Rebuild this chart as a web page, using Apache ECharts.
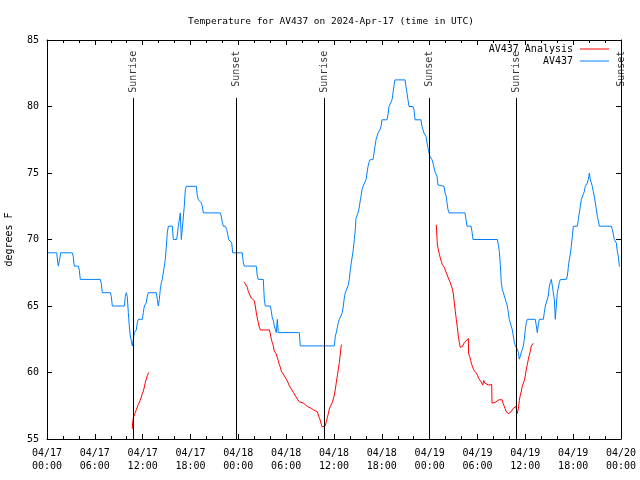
<!DOCTYPE html>
<html>
<head>
<meta charset="utf-8">
<script src="https://cdn.jsdelivr.net/npm/echarts@6/dist/echarts.min.js"></script>
<style>html,body{margin:0;padding:0;background:#fff}#c{width:640px;height:480px}</style>
</head>
<body>
<div id="c"></div>
<script>
// hours since 2024-04-17 00:00 UTC
var xTickLabels = ['04/17\n00:00','04/17\n06:00','04/17\n12:00','04/17\n18:00','04/18\n00:00','04/18\n06:00','04/18\n12:00','04/18\n18:00','04/19\n00:00','04/19\n06:00','04/19\n12:00','04/19\n18:00','04/20\n00:00'];

var blueHours = [0.13,1.22,1.34,1.42,1.59,1.72,3.17,3.30,3.42,3.93,4.05,4.18,6.69,6.81,6.94,7.94,8.07,8.19,9.70,9.82,
9.95,10.07,10.20,10.32,10.45,10.57,10.70,10.83,10.95,11.20,11.33,11.45,11.95,12.08,12.21,12.46,12.58,12.71,13.71,13.84,
13.96,14.09,14.21,14.34,14.46,14.71,14.84,14.97,15.09,15.22,15.72,15.84,16.27,16.47,16.72,16.85,16.97,17.22,17.35,17.47,
18.73,18.85,18.98,19.23,19.36,19.48,19.61,21.74,21.86,21.99,22.11,22.37,22.54,22.67,22.79,23.04,23.17,23.29,24.50,24.62,
24.75,26.25,26.38,26.51,27.13,27.26,27.38,28.01,28.14,28.26,28.39,28.51,28.64,28.76,28.89,29.01,31.65,31.77,36.04,36.17,
36.29,36.42,36.54,36.67,36.92,37.04,37.17,37.29,37.42,37.67,37.80,37.92,38.05,38.17,38.30,38.42,38.55,38.67,38.76,39.01,
39.14,39.26,39.39,39.51,39.64,39.89,40.02,40.14,40.27,40.39,40.52,40.89,41.02,41.14,41.27,41.52,41.65,41.77,41.90,42.02,
42.65,42.78,42.90,43.15,43.28,43.40,43.53,43.65,44.91,45.03,45.16,45.28,45.41,45.91,46.04,46.16,46.91,47.04,47.17,47.29,
47.54,47.67,47.79,47.92,48.04,48.29,48.42,48.67,48.80,48.92,49.05,49.17,49.80,49.93,50.05,50.18,50.30,50.43,52.43,52.56,
52.68,53.19,53.31,53.44,56.49,56.61,56.74,56.86,56.99,57.11,57.24,57.49,57.62,57.74,57.87,57.99,58.24,58.37,58.49,58.62,
58.74,58.87,58.99,59.12,59.25,59.50,59.62,59.75,59.87,60.00,60.12,60.25,61.25,61.38,61.50,61.63,61.76,62.26,62.38,62.51,
62.76,62.88,63.01,63.13,63.26,63.39,63.51,63.64,63.76,63.89,64.01,64.14,64.26,64.39,65.14,65.27,65.39,65.52,65.64,65.77,
65.90,66.02,66.52,66.65,66.77,66.90,67.02,67.15,67.27,67.40,67.52,67.65,67.77,67.90,68.03,68.15,68.28,68.40,68.53,68.65,
68.78,68.91,69.03,69.16,69.28,70.79,70.91,71.04,71.16,71.28,71.41,71.54,71.66,71.79,71.88];

var blueTemps = [69,69,68.3,68,68.5,69,69,68.7,68,68,67.7,67,67,66.7,66,66,65.7,65,65,65.7,
66,65.7,64.5,63.5,62.75,62.4,62,62.5,63,63.2,63.75,64,64,64.5,65,65.25,65.75,66,66,65.5,
65,65.5,66.25,66.75,67,67,68.5,69.5,70.5,71,71,70,70,71,72,70,70,72.5,73.75,74,
74,73.3,73,73,72.75,72.5,72,72,71.75,71.3,71,71,70.75,70.4,70,70,69.75,69,69,68.25,
68,68,67.25,67,67,65.5,65,65,64.6,64.1,63.9,63.5,63.25,63,64,63,63,62,62,62.75,
63,63.4,63.75,64,64,64.5,65,65.6,66,66,66.6,67,67.75,68.25,68.75,69.25,70,70.75,71.6,72,
72.3,72.8,73.25,73.75,74,74,74.5,75,75.5,75.8,76,76,76.5,77,77.5,78,78,78.25,78.5,79,
79,79.4,80,80,80.5,81,81.6,82,82,81.5,81,80.5,80,80,79.75,79,79,78.5,78.25,78,
77.75,77.25,76.9,76.5,76.25,76,75.75,75.1,75,74.75,74.1,74,74,73.5,73.3,72.75,72.25,72,72,71.5,
71,71,70.6,70,70,69.6,69.1,68.1,66.75,66.25,66,65.9,65.25,65,64.5,64,64,63.2,62.75,62.25,
62,62,61.75,61.5,61,61,61.75,62,62.5,63.25,63.75,64,64,63.5,63,63.6,64,64,64.5,65,
65,65.75,66.5,66.75,67,66.5,66,65.5,64,64,66,66,66.75,67,67,67.25,67.9,68.5,68.9,69.5,
70.25,71,71,71.5,72,72.5,73,73.2,73.4,73.6,74,74,74.25,74.5,75,74.5,74.25,74,73.6,73.25,
72.75,72.25,71.75,71.4,71,71,70.75,70.4,70,70,69.75,69.1,68.75,68,68];

var redHours1 = [10.70,10.74,10.83,10.95,11.08,11.20,11.33,11.45,11.58,11.70,11.83,11.95,12.08,12.21,12.33,12.46,12.58,12.71,12.83];
var redTemps1 = [55.75,56.2,56.6,56.8,57.0,57.2,57.4,57.6,57.75,57.9,58.0,58.4,58.6,58.9,59.25,59.5,59.75,59.95,60.0];

var redHours2 = [24.75,25.00,25.13,25.25,25.38,25.63,25.88,26.00,26.13,26.25,26.38,26.51,26.63,26.76,27.89,28.01,28.14,28.26,28.39,28.51,
28.64,28.76,28.89,29.01,29.14,29.27,29.39,29.52,29.77,29.89,30.02,30.14,30.27,30.39,30.52,30.65,30.77,30.90,31.02,31.15,
31.27,31.40,31.52,31.65,31.90,32.15,32.40,32.65,32.90,33.15,33.41,33.66,33.91,34.03,34.16,34.28,34.41,34.53,34.66,34.78,
34.91,35.04,35.16,35.29,35.41,35.54,35.66,35.79,35.91,36.04,36.17,36.29,36.42,36.54,36.67,36.79,36.92];
var redTemps2 = [66.8,66.75,66.4,66.1,65.9,65.6,65.5,65.4,65.0,64.5,64.1,63.75,63.4,63.2,63.2,62.9,62.5,62.25,62.0,61.6,
61.45,61.4,61.1,60.9,60.6,60.4,60.1,59.95,59.75,59.6,59.5,59.4,59.2,59.0,58.9,58.75,58.6,58.5,58.4,58.25,
58.1,58.0,57.9,57.8,57.75,57.7,57.55,57.45,57.4,57.3,57.2,57.1,57.05,56.8,56.6,56.4,56.1,55.9,55.8,55.8,
56.0,56.3,56.6,56.9,57.25,57.45,57.6,57.75,57.9,58.3,58.75,59.25,59.75,60.25,60.75,61.4,62.1];

var redHours3 = [48.83,48.96,49.08,49.21,49.34,49.46,49.59,49.71,49.84,49.96,50.09,50.21,50.34,50.47,50.59,50.72,50.84,50.97,51.09,51.22,
51.34,51.47,51.59,51.72,51.84,51.97,52.10,52.22,52.35,52.60,52.85,52.89,53.02,53.14,53.27,53.40,53.52,53.65,53.78,53.90,
54.03,54.15,54.28,54.40,54.53,54.66,54.78,54.91,55.03,55.41,55.53,55.78,55.82,56.20,56.45,56.70,56.95,57.08,57.20,57.33,
57.45,57.58,57.70,57.83,57.95,58.08,58.21,58.33,58.46,58.58,58.83,58.96,59.00,59.12,59.25,59.37,59.50,59.62,59.75,59.87,
60.00,60.12,60.25,60.38,60.50,60.63,60.75,61.00];
var redTemps3 = [71.1,69.6,69.25,68.9,68.6,68.35,68.1,67.95,67.9,67.7,67.5,67.4,67.1,67.0,66.75,66.6,66.3,65.9,65.25,64.6,
64.0,63.4,62.75,62.25,61.9,61.9,61.95,62.05,62.25,62.3,62.55,61.4,61.2,60.9,60.6,60.4,60.2,60.1,60.0,59.9,
59.75,59.55,59.5,59.35,59.2,59.05,59.4,59.2,59.05,59.05,59.1,59.1,57.7,57.75,57.9,57.95,58.0,57.95,57.7,57.5,
57.3,57.1,57.0,56.9,56.9,57.0,57.05,57.2,57.3,57.35,57.45,56.9,56.75,57.25,57.9,58.3,58.6,59.0,59.2,59.4,
59.75,60.25,60.6,61.0,61.3,61.6,62.0,62.2];

var sunHours = [10.83, 23.75, 34.78, 47.96, 58.87, 72.0];
var sunNames = ['Sunrise','Sunset','Sunrise','Sunset','Sunrise','Sunset'];

function zip(h, t) { return h.map(function (x, i) { return [x, t[i]]; }); }
var redData = zip(redHours1, redTemps1).concat([['-','-']], zip(redHours2, redTemps2), [['-','-']], zip(redHours3, redTemps3));
var blueData = zip(blueHours, blueTemps);

var FONT = 'DejaVu Sans Mono';
var sunLineTop = 80.65;
var sunLabelY = 84.2;

var sunLines = sunHours.map(function (h) { return [{ coord: [h, 55] }, { coord: [h, sunLineTop] }]; });
var sunLabels = sunHours.map(function (h, i) { return { name: sunNames[i], value: [h, sunLabelY] }; });

var baseX = {
  type: 'value', min: 0, max: 72, interval: 6, gridIndex: 0,
  axisLine: { show: true, onZero: false, lineStyle: { color: '#000', width: 1 } },
  axisTick: { show: true, inside: true, length: 5, lineStyle: { color: '#000' } },
  minorTick: { show: true, splitNumber: 3, length: 3, lineStyle: { color: '#000' } },
  splitLine: { show: false }
};
var baseY = {
  type: 'value', min: 55, max: 85, interval: 5,
  axisLine: { show: true, onZero: false, lineStyle: { color: '#000', width: 1 } },
  axisTick: { show: true, inside: true, length: 5, lineStyle: { color: '#000' } },
  splitLine: { show: false }
};

var chart = echarts.init(document.getElementById('c'), null, { renderer: 'canvas' });
chart.setOption({
  animation: false,
  backgroundColor: '#fff',
  textStyle: { fontFamily: FONT },
  title: {
    text: 'Temperature for AV437 on 2024-Apr-17 (time in UTC)',
    left: 183, top: 12,
    textStyle: { fontFamily: FONT, fontSize: 9.5, fontWeight: 'normal', color: '#000' }
  },
  legend: [
    { data: ['AV437 Analysis'], right: 31, top: 44, padding: 0, align: 'right', icon: 'rect', itemWidth: 29, itemHeight: 1,
      textStyle: { fontFamily: FONT, fontSize: 10, color: '#000', padding: [0, 2, 0, 0] } },
    { data: ['AV437'], right: 31, top: 56, padding: 0, align: 'right', icon: 'rect', itemWidth: 29, itemHeight: 1,
      textStyle: { fontFamily: FONT, fontSize: 10, color: '#000', padding: [0, 2, 0, 0] } }
  ],
  grid: { left: 47, right: 19, top: 40, bottom: 41, containLabel: false, outerBoundsMode: 'none' },
  xAxis: [
    Object.assign({}, baseX, {
      position: 'bottom',
      axisLabel: { show: true, margin: 8, lineHeight: 13, fontFamily: FONT, fontSize: 10, color: '#000', showMinLabel: true, showMaxLabel: true,
        formatter: function (v) { return xTickLabels[Math.round(v / 6)]; } }
    }),
    Object.assign({}, baseX, { position: 'top', axisLabel: { show: false } })
  ],
  yAxis: [
    Object.assign({}, baseY, {
      position: 'left',
      name: 'degrees F', nameLocation: 'middle', nameRotate: 90, nameGap: 33,
      nameTextStyle: { fontFamily: FONT, fontSize: 10, color: '#000' },
      axisLabel: { show: true, margin: 8, fontFamily: FONT, fontSize: 10, color: '#000' }
    }),
    Object.assign({}, baseY, { position: 'right', axisLabel: { show: false } })
  ],
  series: [
    {
      name: 'AV437 Analysis', type: 'line', data: redData, showSymbol: false, connectNulls: false,
      color: '#ff0000', lineStyle: { color: '#ff0000', width: 1 }, z: 3
    },
    {
      name: 'AV437', type: 'line', data: blueData, showSymbol: false,
      color: '#0080ff', lineStyle: { color: '#0080ff', width: 1 }, z: 4,
      markLine: {
        silent: true, symbol: 'none', animation: false,
        lineStyle: { color: '#000', width: 1, type: 'solid' },
        label: { show: false },
        data: sunLines
      }
    },
    {
      name: 'sun', type: 'scatter', data: sunLabels, symbolSize: 0, z: 5, silent: true,
      label: { show: true, formatter: '{b}', rotate: 90, position: 'inside', align: 'right', verticalAlign: 'middle',
        fontFamily: FONT, fontSize: 10, color: '#000' }
    }
  ]
});
</script>
</body>
</html>
